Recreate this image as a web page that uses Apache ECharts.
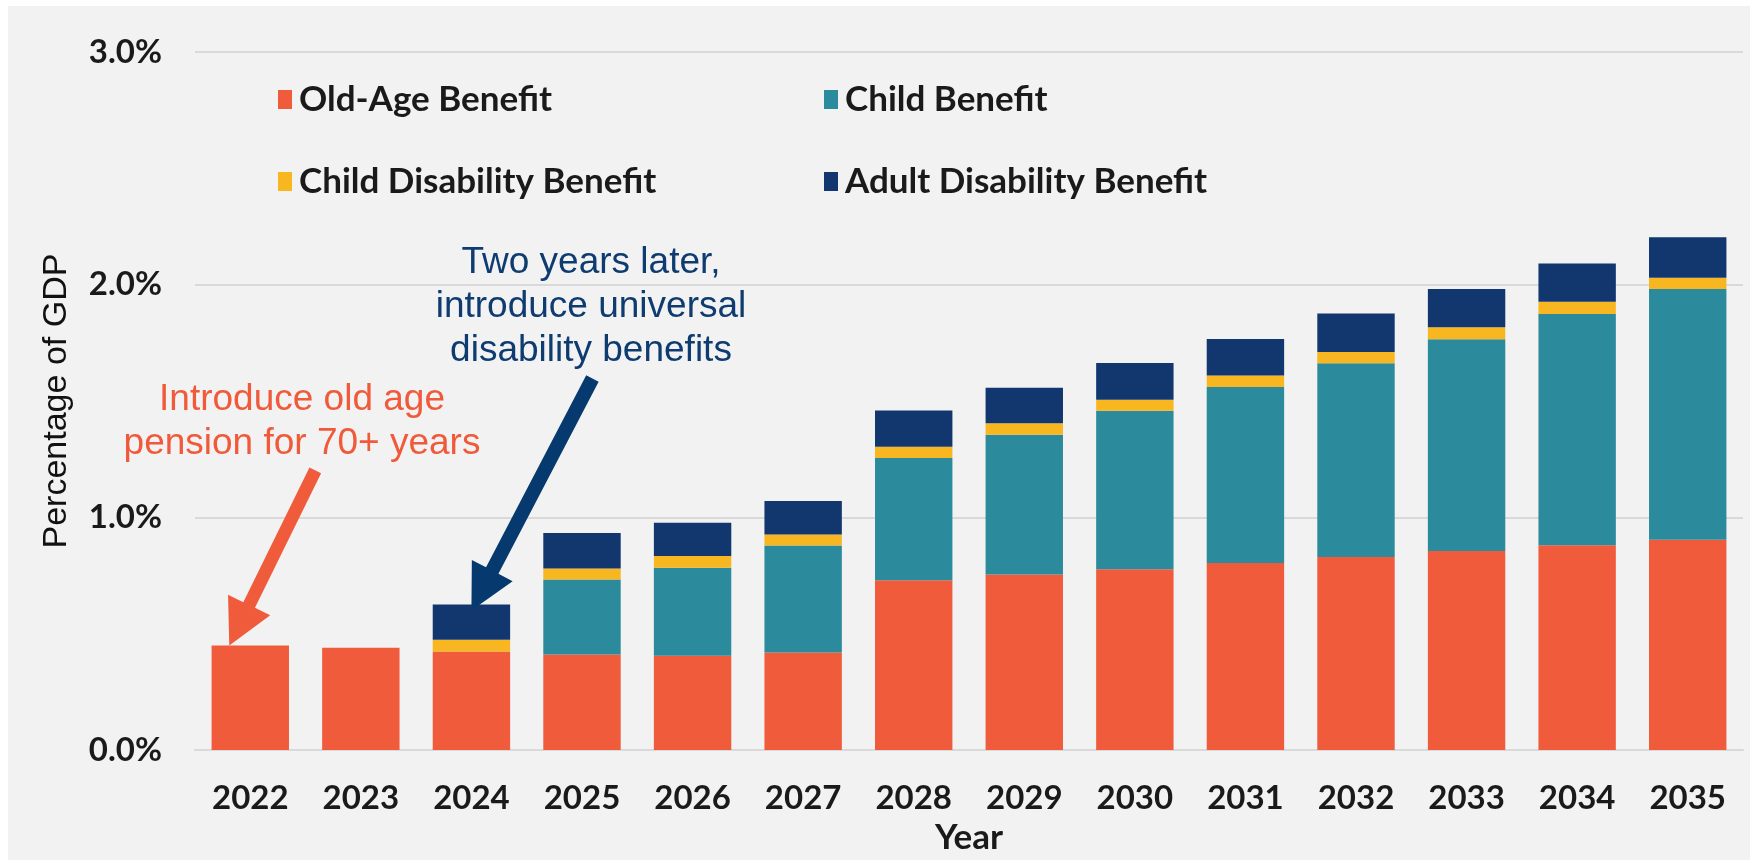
<!DOCTYPE html>
<html><head><meta charset="utf-8">
<script src="https://cdn.jsdelivr.net/npm/echarts/dist/echarts.min.js"></script>
<style>
html,body{margin:0;padding:0;background:#fff;}
#bg{position:absolute;left:8px;top:6px;width:1742px;height:854px;background:#f2f2f2;}
#chart{position:absolute;left:0;top:0;width:1750px;height:860px;}
</style></head><body><div id="bg"></div><div id="chart"></div>
<script>
const years = ['2022','2023','2024','2025','2026','2027','2028','2029','2030','2031','2032','2033','2034','2035'];
const oldAge   = [0.45, 0.44, 0.424, 0.411, 0.405, 0.419, 0.73, 0.755, 0.777, 0.804, 0.83, 0.856, 0.88, 0.904];
const child    = [0, 0, 0, 0.322, 0.379, 0.46, 0.525, 0.60, 0.681, 0.756, 0.832, 0.91, 0.994, 1.077];
const childDis = [0, 0, 0.05, 0.047, 0.05, 0.048, 0.049, 0.05, 0.048, 0.05, 0.049, 0.051, 0.053, 0.049];
const adultDis = [0, 0, 0.152, 0.153, 0.143, 0.143, 0.155, 0.152, 0.157, 0.157, 0.165, 0.164, 0.164, 0.174];
const yTicks = [0, 1, 2, 3];
const seriesNames = ['Old-Age Benefit', 'Child Benefit', 'Child Disability Benefit', 'Adult Disability Benefit'];
const colors = ['#F05C3B', '#2B8B9C', '#F8B620', '#12376F'];

const chart = echarts.init(document.getElementById('chart'));
const calib = 'Lato, "Open Sans", sans-serif';
const lstyle = {fontFamily: calib, fontSize: 35, fontWeight: 'bold', color: '#1a1a1a', padding: [0,0,0,2], lineHeight: 34};
const data = [oldAge, child, childDis, adultDis];
const option = {
  animation: false,
  color: colors,
  grid: {left: 195, right: 7, top: 52, bottom: 107, containLabel: false},
  legend: [
    {data: [seriesNames[0], seriesNames[2]], orient: 'vertical', left: 273, top: 77, itemWidth: 14, itemHeight: 19, itemGap: 47, textStyle: lstyle, icon: 'rect'},
    {data: [seriesNames[1], seriesNames[3]], orient: 'vertical', left: 819, top: 77, itemWidth: 14, itemHeight: 19, itemGap: 47, textStyle: lstyle, icon: 'rect'}
  ],
  xAxis: {
    type: 'category', data: years,
    name: 'Year', nameLocation: 'middle', nameGap: 64,
    nameTextStyle: {fontFamily: calib, fontSize: 35, fontWeight: 'bold', color: '#1a1a1a'},
    axisTick: {show: false},
    axisLine: {lineStyle: {color: '#d9d9d9', width: 2}},
    axisLabel: {fontFamily: calib, fontSize: 33, fontWeight: 'bold', color: '#1a1a1a', margin: 32}
  },
  yAxis: {
    type: 'value', min: 0, max: 3, interval: 1,
    name: 'Percentage of GDP', nameLocation: 'middle', nameGap: 121,
    nameTextStyle: {fontFamily: '"Liberation Sans", Arial, sans-serif', fontSize: 34, color: '#111'},
    axisLabel: {fontFamily: calib, fontSize: 33, fontWeight: 'bold', color: '#1a1a1a', margin: 33,
      formatter: v => yTicks.includes(v) ? v.toFixed(1) + '%' : ''},
    splitLine: {lineStyle: {color: '#d9d9d9', width: 2}},
    axisLine: {show: false}, axisTick: {show: false}
  },
  series: seriesNames.map((n, i) => ({
    name: n, type: 'bar', stack: 'total', data: data[i], barCategoryGap: '30%',
    itemStyle: {color: colors[i]}
  }))
};
chart.setOption(option);

function arrowPoints(tail, tip, sw, hw, hl) {
  const dx = tip[0] - tail[0], dy = tip[1] - tail[1];
  const L = Math.hypot(dx, dy);
  const ux = dx / L, uy = dy / L, px = -uy, py = ux;
  const bx = tip[0] - ux * hl, by = tip[1] - uy * hl;
  return [
    [tail[0] + px * sw / 2, tail[1] + py * sw / 2],
    [bx + px * sw / 2, by + py * sw / 2],
    [bx + px * hw / 2, by + py * hw / 2],
    tip,
    [bx - px * hw / 2, by - py * hw / 2],
    [bx - px * sw / 2, by - py * sw / 2],
    [tail[0] - px * sw / 2, tail[1] - py * sw / 2]
  ];
}
const p22 = chart.convertToPixel({gridIndex: 0}, [0, oldAge[0]]);
const tot24 = oldAge[2] + child[2] + childDis[2] + adultDis[2];
const p24 = chart.convertToPixel({gridIndex: 0}, [2, tot24]);
const tipO = [p22[0] - 21, p22[1]];
const tipN = [p24[0], p24[1] + 6];
chart.setOption({
  graphic: [
    {type: 'polygon', shape: {points: arrowPoints([tipO[0] + 86, tipO[1] - 175], tipO, 13, 47, 45)}, style: {fill: '#F05C3B'}, z: 10},
    {type: 'polygon', shape: {points: arrowPoints([tipN[0] + 121, tipN[1] - 232], tipN, 14, 46, 45)}, style: {fill: '#063A6E'}, z: 10},
    {type: 'text', x: 302, y: 378, style: {text: 'Introduce old age\npension for 70+ years', align: 'center', verticalAlign: 'top', lineHeight: 44, font: '37px "Liberation Sans", Arial, sans-serif', fill: '#F05A3A'}, z: 10},
    {type: 'text', x: 591, y: 241, style: {text: 'Two years later,\nintroduce universal\ndisability benefits', align: 'center', verticalAlign: 'top', lineHeight: 44, font: '37px "Liberation Sans", Arial, sans-serif', fill: '#0E3C70'}, z: 10}
  ]
});
</script></body></html>
